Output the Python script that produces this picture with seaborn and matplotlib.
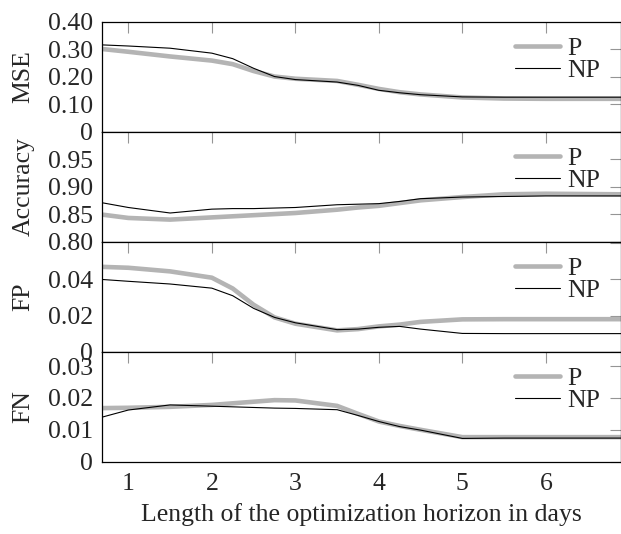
import numpy as np
import pandas as pd
import matplotlib
matplotlib.use("Agg")
import matplotlib.pyplot as plt
import seaborn as sns

# horizon length in days
days = [0.69, 1.0, 1.5, 2.0, 2.25, 2.5, 2.75, 3.0, 3.5, 3.75, 4.0, 4.25, 4.5, 5.0, 5.5, 6.0, 6.9]

mse_p = [0.300, 0.290, 0.273, 0.258, 0.245, 0.220, 0.200, 0.192, 0.184, 0.170, 0.155, 0.143, 0.135, 0.124, 0.120, 0.119, 0.119]
mse_np = [0.315, 0.311, 0.303, 0.285, 0.265, 0.230, 0.200, 0.189, 0.180, 0.168, 0.150, 0.141, 0.134, 0.126, 0.125, 0.125, 0.125]

acc_p = [0.849, 0.843, 0.840, 0.844, 0.846, 0.848, 0.850, 0.852, 0.858, 0.862, 0.865, 0.870, 0.875, 0.881, 0.886, 0.887, 0.886]
acc_np = [0.8705, 0.862, 0.852, 0.859, 0.860, 0.860, 0.861, 0.862, 0.867, 0.868, 0.869, 0.873, 0.878, 0.881, 0.882, 0.883, 0.883]

fp_p = [0.047, 0.0465, 0.0445, 0.041, 0.035, 0.026, 0.019, 0.0155, 0.0118, 0.0125, 0.014, 0.015, 0.0165, 0.0179, 0.018, 0.018, 0.018]
fp_np = [0.040, 0.039, 0.0375, 0.0352, 0.031, 0.024, 0.019, 0.016, 0.0122, 0.0125, 0.0135, 0.014, 0.0125, 0.0101, 0.010, 0.010, 0.010]

fn_p = [0.0168, 0.0169, 0.0172, 0.0178, 0.0183, 0.0188, 0.0193, 0.0192, 0.0175, 0.015, 0.0126, 0.0112, 0.0100, 0.0077, 0.0077, 0.0077, 0.0077]
fn_np = [0.014, 0.0162, 0.0178, 0.0174, 0.0172, 0.017, 0.0168, 0.0167, 0.0163, 0.0145, 0.0126, 0.011, 0.0099, 0.0073, 0.0074, 0.0074, 0.0074]

panels = [
    ("MSE", mse_p, mse_np, (0, 0.4), [0, 0.1, 0.2, 0.3, 0.4], ["0", "0.10", "0.20", "0.30", "0.40"]),
    ("Accuracy", acc_p, acc_np, (0.8, 1.0), [0.80, 0.85, 0.90, 0.95, 1.0], ["0.80", "0.85", "0.90", "0.95", ""]),
    ("FP", fp_p, fp_np, (0, 0.061), [0, 0.02, 0.04, 0.06], ["0", "0.02", "0.04", ""]),
    ("FN", fn_p, fn_np, (0, 0.0345), [0, 0.01, 0.02, 0.03], ["0", "0.01", "0.02", "0.03"]),
]

FONT = "Liberation Serif"
FS = 18.5

sns.set_style("white")
plt.rcParams["font.family"] = FONT
plt.rcParams["font.size"] = FS

fig, axes = plt.subplots(4, 1, figsize=(6.21, 5.34), dpi=100, sharex=True)
fig.subplots_adjust(left=0.165, right=1.0, top=0.9597, bottom=0.1354, hspace=0)

for ax, (name, p_vals, np_vals, ylim, yticks, ylabels) in zip(axes, panels):
    sns.lineplot(x=days, y=p_vals, ax=ax, color="#b4b4b4", lw=3.3, label="P")
    sns.lineplot(x=days, y=np_vals, ax=ax, color="black", lw=0.8, label="NP")
    ax.set_ylim(*ylim)
    ax.set_yticks(yticks)
    ax.set_yticklabels(ylabels, family=FONT, fontsize=FS)
    ax.set_ylabel(name, family=FONT, fontsize=FS, labelpad=9.5)
    ax.set_xlim(0.69, 6.9)
    ax.set_xticks([1, 2, 3, 4, 5, 6])
    ax.set_xticklabels(["1", "2", "3", "4", "5", "6"], family=FONT, fontsize=FS)
    ax.tick_params(direction="in", top=True, right=True, color="#959595",
                   length=8, width=0.8, pad=7)
    ax.tick_params(axis="x", pad=8)
    for s in ax.spines.values():
        s.set_color("black")
        s.set_linewidth(0.9)
    ax.legend(loc="upper right", bbox_to_anchor=(0.96, 0.86), frameon=False,
              prop={"family": FONT, "size": FS}, borderpad=0, borderaxespad=0,
              labelspacing=-0.05, handlelength=1.75, handletextpad=0.3)
    ax.grid(False)

axes[-1].set_xlabel("Length of the optimization horizon in days", family=FONT,
                    fontsize=FS, labelpad=6)
fig.align_ylabels(axes)
fig.savefig("out.png", dpi=100)
